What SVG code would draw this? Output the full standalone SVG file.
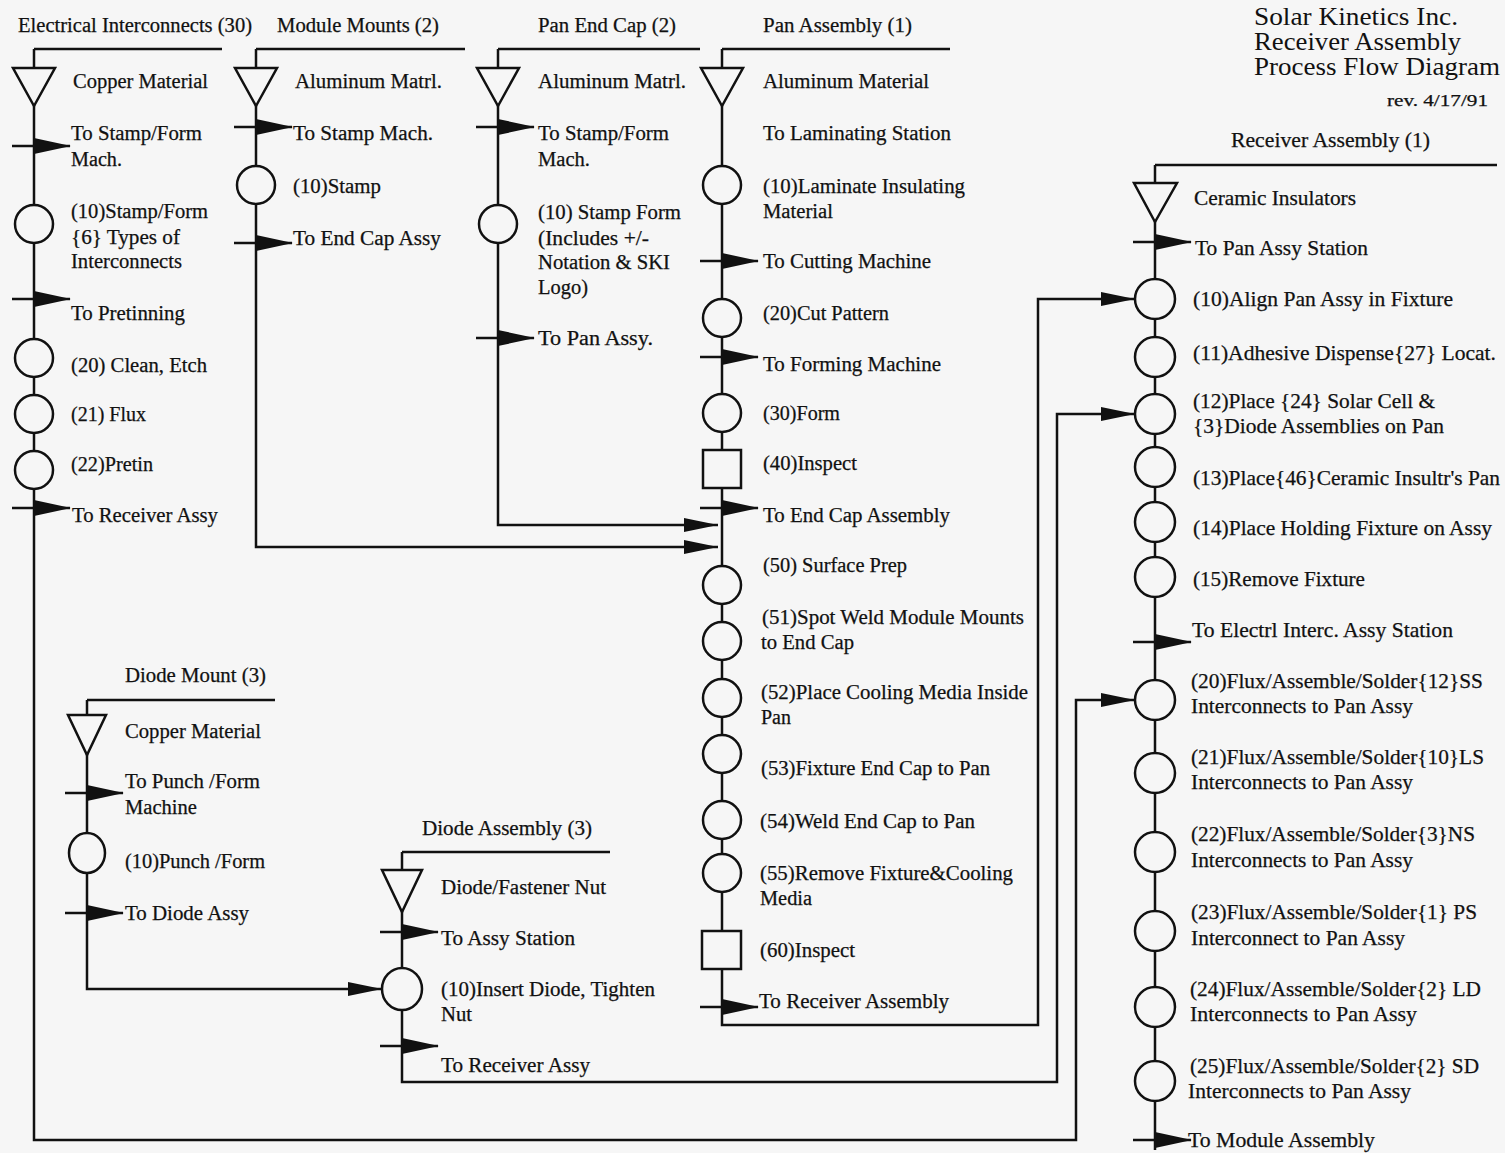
<svg xmlns="http://www.w3.org/2000/svg" xmlns:xlink="http://www.w3.org/1999/xlink" width="1505" height="1153" viewBox="0 0 1505 1153">
<style>
.t{font-family:"Liberation Serif","Times New Roman",serif;font-size:20px;fill:#111;stroke:#111;stroke-width:0.25}
.r{font-size:21px}
.h{font-size:25px;stroke-width:0}
.s{font-size:16px}
.ln{fill:none;stroke:#111;stroke-width:2.5}
.sym{fill:#f6f6f6;stroke:#111;stroke-width:2.5}
.ah{fill:#111;stroke:none}
</style>
<defs>
<g id="fa"><line x1="-22" y1="0" x2="36" y2="0" stroke="#111" stroke-width="2.5"/><polygon points="0,-8 37,0 0,8" fill="#111"/></g>
<polygon id="ah" points="-34,-7 0,0 -34,7"/>
<polygon id="tri" points="-21,0 21,0 0,38"/>
</defs>
<rect width="1505" height="1153" fill="#f6f6f6"/>

<g id="connectors">
<path class="ln" d="M34,49 H222 M34,49 V1140 H1076 V700 H1135"/>
<path class="ln" d="M256,49 H465 M256,49 V547 H718"/>
<path class="ln" d="M498,49 H700 M498,49 V525 H718"/>
<path class="ln" d="M722,49 H950 M722,49 V1025 H1038 V299 H1135"/>
<path class="ln" d="M87,700 H275 M87,700 V989 H382"/>
<path class="ln" d="M402,852 H610 M402,852 V1082 H1057 V414 H1135"/>
<path class="ln" d="M1155,165 H1497 M1155,165 V1150"/>
<g class="ah">
<use xlink:href="#ah" x="718" y="525"/>
<use xlink:href="#ah" x="718" y="547"/>
<use xlink:href="#ah" x="1135" y="299"/>
<use xlink:href="#ah" x="1135" y="414"/>
<use xlink:href="#ah" x="1135" y="700"/>
<use xlink:href="#ah" x="382" y="989"/>
</g>
<use xlink:href="#fa" x="34" y="146"/>
<use xlink:href="#fa" x="34" y="299"/>
<use xlink:href="#fa" x="34" y="508"/>
<use xlink:href="#fa" x="256" y="127"/>
<use xlink:href="#fa" x="256" y="243"/>
<use xlink:href="#fa" x="498" y="127"/>
<use xlink:href="#fa" x="498" y="338"/>
<use xlink:href="#fa" x="722" y="261"/>
<use xlink:href="#fa" x="722" y="357"/>
<use xlink:href="#fa" x="722" y="508"/>
<use xlink:href="#fa" x="722" y="1007"/>
<use xlink:href="#fa" x="87" y="793"/>
<use xlink:href="#fa" x="87" y="913"/>
<use xlink:href="#fa" x="402" y="932"/>
<use xlink:href="#fa" x="402" y="1046"/>
<use xlink:href="#fa" x="1155" y="242"/>
<use xlink:href="#fa" x="1155" y="642"/>
<use xlink:href="#fa" x="1155" y="1140"/>
</g>

<g id="title">
<text class="t h" x="1254" y="25" textLength="204" lengthAdjust="spacingAndGlyphs">Solar Kinetics Inc.</text>
<text class="t h" x="1254" y="50" textLength="207" lengthAdjust="spacingAndGlyphs">Receiver Assembly</text>
<text class="t h" x="1254" y="75" textLength="246" lengthAdjust="spacingAndGlyphs">Process Flow Diagram</text>
<text class="t s" x="1387" y="106" textLength="101" lengthAdjust="spacingAndGlyphs">rev. 4/17/91</text>
</g>

<!-- Electrical Interconnects -->
<g id="ei-title"><text class="t" x="18" y="32" textLength="234" lengthAdjust="spacingAndGlyphs">Electrical Interconnects (30)</text></g>
<g id="ei-material"><use xlink:href="#tri" class="sym" x="34" y="68"/><text class="t" x="73" y="88" textLength="135" lengthAdjust="spacingAndGlyphs">Copper Material</text></g>
<g id="ei-move1"><text class="t" x="71" y="140" textLength="131" lengthAdjust="spacingAndGlyphs">To Stamp/Form</text><text class="t" x="71" y="166" textLength="51" lengthAdjust="spacingAndGlyphs">Mach.</text></g>
<g id="ei-10"><circle class="sym" cx="34" cy="224" r="19"/><text class="t" x="71" y="218" textLength="137" lengthAdjust="spacingAndGlyphs">(10)Stamp/Form</text><text class="t" x="71" y="244" textLength="109" lengthAdjust="spacingAndGlyphs">{6} Types of</text><text class="t" x="71" y="268" textLength="111" lengthAdjust="spacingAndGlyphs">Interconnects</text></g>
<g id="ei-move2"><text class="t" x="71" y="320" textLength="114" lengthAdjust="spacingAndGlyphs">To Pretinning</text></g>
<g id="ei-20"><circle class="sym" cx="34" cy="358" r="19"/><text class="t" x="71" y="372" textLength="136" lengthAdjust="spacingAndGlyphs">(20) Clean, Etch</text></g>
<g id="ei-21"><circle class="sym" cx="34" cy="414" r="19"/><text class="t" x="71" y="421" textLength="75" lengthAdjust="spacingAndGlyphs">(21) Flux</text></g>
<g id="ei-22"><circle class="sym" cx="34" cy="470" r="19"/><text class="t" x="71" y="471" textLength="82" lengthAdjust="spacingAndGlyphs">(22)Pretin</text></g>
<g id="ei-move3"><text class="t" x="72" y="522" textLength="146" lengthAdjust="spacingAndGlyphs">To Receiver Assy</text></g>

<!-- Module Mounts -->
<g id="mm-title"><text class="t" x="277" y="32" textLength="162" lengthAdjust="spacingAndGlyphs">Module Mounts (2)</text></g>
<g id="mm-material"><use xlink:href="#tri" class="sym" x="256" y="68"/><text class="t" x="295" y="88" textLength="147" lengthAdjust="spacingAndGlyphs">Aluminum Matrl.</text></g>
<g id="mm-move1"><text class="t" x="293" y="140" textLength="140" lengthAdjust="spacingAndGlyphs">To Stamp Mach.</text></g>
<g id="mm-10"><circle class="sym" cx="256" cy="185" r="19"/><text class="t" x="293" y="193" textLength="88" lengthAdjust="spacingAndGlyphs">(10)Stamp</text></g>
<g id="mm-move2"><text class="t" x="293" y="245" textLength="148" lengthAdjust="spacingAndGlyphs">To End Cap Assy</text></g>

<!-- Pan End Cap -->
<g id="ec-title"><text class="t" x="538" y="32" textLength="138" lengthAdjust="spacingAndGlyphs">Pan End Cap (2)</text></g>
<g id="ec-material"><use xlink:href="#tri" class="sym" x="498" y="68"/><text class="t" x="538" y="88" textLength="148" lengthAdjust="spacingAndGlyphs">Aluminum Matrl.</text></g>
<g id="ec-move1"><text class="t" x="538" y="140" textLength="131" lengthAdjust="spacingAndGlyphs">To Stamp/Form</text><text class="t" x="538" y="166" textLength="52" lengthAdjust="spacingAndGlyphs">Mach.</text></g>
<g id="ec-10"><circle class="sym" cx="498" cy="224" r="19"/><text class="t" x="538" y="219" textLength="143" lengthAdjust="spacingAndGlyphs">(10) Stamp Form</text><text class="t" x="538" y="245" textLength="111" lengthAdjust="spacingAndGlyphs">(Includes +/-</text><text class="t" x="538" y="269" textLength="132" lengthAdjust="spacingAndGlyphs">Notation &amp; SKI</text><text class="t" x="538" y="294" textLength="50" lengthAdjust="spacingAndGlyphs">Logo)</text></g>
<g id="ec-move2"><text class="t" x="538" y="345" textLength="115" lengthAdjust="spacingAndGlyphs">To Pan  Assy.</text></g>

<!-- Pan Assembly -->
<g id="pa-title"><text class="t" x="763" y="32" textLength="149" lengthAdjust="spacingAndGlyphs">Pan Assembly (1)</text></g>
<g id="pa-material"><use xlink:href="#tri" class="sym" x="722" y="68"/><text class="t" x="763" y="88" textLength="166" lengthAdjust="spacingAndGlyphs">Aluminum Material</text></g>
<g id="pa-move1"><text class="t" x="763" y="140" textLength="188" lengthAdjust="spacingAndGlyphs">To Laminating Station</text></g>
<g id="pa-10"><circle class="sym" cx="722" cy="185" r="19"/><text class="t" x="763" y="193" textLength="202" lengthAdjust="spacingAndGlyphs">(10)Laminate Insulating</text><text class="t" x="763" y="218" textLength="70" lengthAdjust="spacingAndGlyphs">Material</text></g>
<g id="pa-move2"><text class="t" x="763" y="268" textLength="168" lengthAdjust="spacingAndGlyphs">To Cutting Machine</text></g>
<g id="pa-20"><circle class="sym" cx="722" cy="318" r="19"/><text class="t" x="763" y="320" textLength="126" lengthAdjust="spacingAndGlyphs">(20)Cut Pattern</text></g>
<g id="pa-move3"><text class="t" x="763" y="371" textLength="178" lengthAdjust="spacingAndGlyphs">To Forming Machine</text></g>
<g id="pa-30"><circle class="sym" cx="722" cy="413" r="19"/><text class="t" x="763" y="420" textLength="77" lengthAdjust="spacingAndGlyphs">(30)Form</text></g>
<g id="pa-40"><rect class="sym" x="703" y="450" width="38" height="38"/><text class="t" x="763" y="470" textLength="94" lengthAdjust="spacingAndGlyphs">(40)Inspect</text></g>
<g id="pa-move4"><text class="t" x="763" y="522" textLength="187" lengthAdjust="spacingAndGlyphs">To End Cap Assembly</text></g>
<g id="pa-50"><circle class="sym" cx="722" cy="585" r="19"/><text class="t" x="763" y="572" textLength="144" lengthAdjust="spacingAndGlyphs">(50) Surface Prep</text></g>
<g id="pa-51"><circle class="sym" cx="722" cy="641" r="19"/><text class="t" x="762" y="624" textLength="262" lengthAdjust="spacingAndGlyphs">(51)Spot Weld Module Mounts</text><text class="t" x="761" y="649" textLength="93" lengthAdjust="spacingAndGlyphs">to End Cap</text></g>
<g id="pa-52"><circle class="sym" cx="722" cy="698" r="19"/><text class="t" x="761" y="699" textLength="267" lengthAdjust="spacingAndGlyphs">(52)Place Cooling Media Inside</text><text class="t" x="761" y="724" textLength="30" lengthAdjust="spacingAndGlyphs">Pan</text></g>
<g id="pa-53"><circle class="sym" cx="722" cy="754" r="19"/><text class="t" x="761" y="775" textLength="229" lengthAdjust="spacingAndGlyphs">(53)Fixture End Cap to Pan</text></g>
<g id="pa-54"><circle class="sym" cx="722" cy="820" r="19"/><text class="t" x="760" y="828" textLength="215" lengthAdjust="spacingAndGlyphs">(54)Weld End Cap to Pan</text></g>
<g id="pa-55"><circle class="sym" cx="722" cy="873" r="19"/><text class="t" x="760" y="880" textLength="253" lengthAdjust="spacingAndGlyphs">(55)Remove Fixture&amp;Cooling</text><text class="t" x="760" y="905" textLength="52" lengthAdjust="spacingAndGlyphs">Media</text></g>
<g id="pa-60"><rect class="sym" x="702" y="931" width="39" height="38"/><text class="t" x="760" y="957" textLength="95" lengthAdjust="spacingAndGlyphs">(60)Inspect</text></g>
<g id="pa-move5"><text class="t" x="759" y="1008" textLength="190" lengthAdjust="spacingAndGlyphs">To Receiver Assembly</text></g>

<!-- Diode Mount -->
<g id="dm-title"><text class="t" x="125" y="682" textLength="141" lengthAdjust="spacingAndGlyphs">Diode Mount (3)</text></g>
<g id="dm-material"><polygon class="sym" points="68,715 106,715 87,755"/><text class="t" x="125" y="738" textLength="136" lengthAdjust="spacingAndGlyphs">Copper Material</text></g>
<g id="dm-move1"><text class="t" x="125" y="788" textLength="135" lengthAdjust="spacingAndGlyphs">To Punch /Form</text><text class="t" x="125" y="814" textLength="72" lengthAdjust="spacingAndGlyphs">Machine</text></g>
<g id="dm-10"><ellipse class="sym" cx="87" cy="853" rx="18" ry="20"/><text class="t" x="125" y="868" textLength="140" lengthAdjust="spacingAndGlyphs">(10)Punch /Form</text></g>
<g id="dm-move2"><text class="t" x="125" y="920" textLength="124" lengthAdjust="spacingAndGlyphs">To Diode Assy</text></g>

<!-- Diode Assembly -->
<g id="da-title"><text class="t" x="422" y="835" textLength="170" lengthAdjust="spacingAndGlyphs">Diode Assembly (3)</text></g>
<g id="da-material"><polygon class="sym" points="382,870 422,870 402,912"/><text class="t" x="441" y="894" textLength="165" lengthAdjust="spacingAndGlyphs">Diode/Fastener Nut</text></g>
<g id="da-move1"><text class="t" x="441" y="945" textLength="134" lengthAdjust="spacingAndGlyphs">To Assy Station</text></g>
<g id="da-10"><ellipse class="sym" cx="402" cy="989" rx="20" ry="21"/><text class="t" x="441" y="996" textLength="214" lengthAdjust="spacingAndGlyphs">(10)Insert Diode, Tighten</text><text class="t" x="441" y="1021" textLength="31" lengthAdjust="spacingAndGlyphs">Nut</text></g>
<g id="da-move2"><text class="t" x="441" y="1072" textLength="149" lengthAdjust="spacingAndGlyphs">To Receiver Assy</text></g>

<!-- Receiver Assembly -->
<g id="ra-title"><text class="t r" x="1231" y="147" textLength="199" lengthAdjust="spacingAndGlyphs">Receiver Assembly (1)</text></g>
<g id="ra-material"><polygon class="sym" points="1134,183 1177,183 1155,222"/><text class="t r" x="1194" y="205" textLength="162" lengthAdjust="spacingAndGlyphs">Ceramic Insulators</text></g>
<g id="ra-move1"><text class="t r" x="1195" y="255" textLength="173" lengthAdjust="spacingAndGlyphs">To Pan Assy Station</text></g>
<g id="ra-10"><circle class="sym" cx="1155" cy="299" r="20"/><text class="t r" x="1193" y="306" textLength="260" lengthAdjust="spacingAndGlyphs">(10)Align Pan Assy in Fixture</text></g>
<g id="ra-11"><circle class="sym" cx="1155" cy="357" r="20"/><text class="t r" x="1193" y="360" textLength="303" lengthAdjust="spacingAndGlyphs">(11)Adhesive Dispense{27} Locat.</text></g>
<g id="ra-12"><circle class="sym" cx="1155" cy="414" r="20"/><text class="t r" x="1193" y="408" textLength="242" lengthAdjust="spacingAndGlyphs">(12)Place {24} Solar Cell &amp;</text><text class="t r" x="1193" y="433" textLength="251" lengthAdjust="spacingAndGlyphs">{3}Diode Assemblies on Pan</text></g>
<g id="ra-13"><circle class="sym" cx="1155" cy="467" r="20"/><text class="t r" x="1193" y="485" textLength="307" lengthAdjust="spacingAndGlyphs">(13)Place{46}Ceramic Insultr's Pan</text></g>
<g id="ra-14"><circle class="sym" cx="1155" cy="522" r="20"/><text class="t r" x="1193" y="535" textLength="299" lengthAdjust="spacingAndGlyphs">(14)Place Holding Fixture on Assy</text></g>
<g id="ra-15"><circle class="sym" cx="1155" cy="577" r="20"/><text class="t r" x="1193" y="586" textLength="172" lengthAdjust="spacingAndGlyphs">(15)Remove Fixture</text></g>
<g id="ra-move2"><text class="t r" x="1192" y="637" textLength="261" lengthAdjust="spacingAndGlyphs">To Electrl Interc. Assy Station</text></g>
<g id="ra-20"><circle class="sym" cx="1155" cy="700" r="20"/><text class="t r" x="1191" y="688" textLength="292" lengthAdjust="spacingAndGlyphs">(20)Flux/Assemble/Solder{12}SS</text><text class="t r" x="1191" y="713" textLength="222" lengthAdjust="spacingAndGlyphs">Interconnects to Pan Assy</text></g>
<g id="ra-21"><circle class="sym" cx="1155" cy="773" r="20"/><text class="t r" x="1191" y="764" textLength="293" lengthAdjust="spacingAndGlyphs">(21)Flux/Assemble/Solder{10}LS</text><text class="t r" x="1191" y="789" textLength="222" lengthAdjust="spacingAndGlyphs">Interconnects to Pan Assy</text></g>
<g id="ra-22"><circle class="sym" cx="1155" cy="852" r="20"/><text class="t r" x="1191" y="841" textLength="284" lengthAdjust="spacingAndGlyphs">(22)Flux/Assemble/Solder{3}NS</text><text class="t r" x="1191" y="867" textLength="222" lengthAdjust="spacingAndGlyphs">Interconnects to Pan Assy</text></g>
<g id="ra-23"><circle class="sym" cx="1155" cy="931" r="20"/><text class="t r" x="1191" y="919" textLength="286" lengthAdjust="spacingAndGlyphs">(23)Flux/Assemble/Solder{1} PS</text><text class="t r" x="1191" y="945" textLength="214" lengthAdjust="spacingAndGlyphs">Interconnect to Pan Assy</text></g>
<g id="ra-24"><circle class="sym" cx="1155" cy="1007" r="20"/><text class="t r" x="1190" y="996" textLength="291" lengthAdjust="spacingAndGlyphs">(24)Flux/Assemble/Solder{2} LD</text><text class="t r" x="1190" y="1021" textLength="227" lengthAdjust="spacingAndGlyphs">Interconnects to Pan Assy</text></g>
<g id="ra-25"><circle class="sym" cx="1155" cy="1081" r="20"/><text class="t r" x="1190" y="1073" textLength="289" lengthAdjust="spacingAndGlyphs">(25)Flux/Assemble/Solder{2} SD</text><text class="t r" x="1188" y="1098" textLength="223" lengthAdjust="spacingAndGlyphs">Interconnects to Pan Assy</text></g>
<g id="ra-move3"><text class="t r" x="1188" y="1147" textLength="187" lengthAdjust="spacingAndGlyphs">To Module Assembly</text></g>
</svg>
